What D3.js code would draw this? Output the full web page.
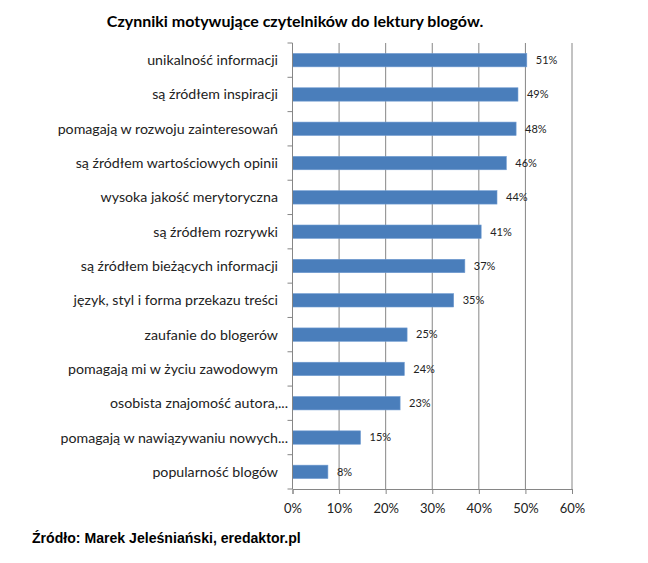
<!DOCTYPE html>
<html>
<head>
<meta charset="utf-8">
<script src="https://cdn.jsdelivr.net/npm/d3@7"></script>
<style>
  body { margin: 0; background: #fff; }
  svg { display: block; }
</style>
</head>
<body>
<div id="chart"></div>
<script>
// dane
const kategorie = [
  "unikalność informacji",
  "są źródłem inspiracji",
  "pomagają w rozwoju zainteresowań",
  "są źródłem wartościowych opinii",
  "wysoka jakość merytoryczna",
  "są źródłem rozrywki",
  "są źródłem bieżących informacji",
  "język, styl i forma przekazu treści",
  "zaufanie do blogerów",
  "pomagają mi w życiu zawodowym",
  "osobista znajomość autora,...",
  "pomagają w nawiązywaniu nowych...",
  "popularność blogów"
];
const wartosci = [0.503, 0.484, 0.480, 0.459, 0.439, 0.405, 0.370, 0.346, 0.246, 0.240, 0.231, 0.146, 0.076];
const etykiety = ["51%", "49%", "48%", "46%", "44%", "41%", "37%", "35%", "25%", "24%", "23%", "15%", "8%"];
const ticksX = [0, 0.1, 0.2, 0.3, 0.4, 0.5, 0.6];

const width = 648, height = 563;
const plot = { left: 292.5, right: 572, top: 43, bottom: 489 };
const szary = "#868686";

const svg = d3.select("#chart").append("svg")
    .attr("width", width).attr("height", height);

const x = d3.scaleLinear().domain([0, 0.6]).range([plot.left, plot.right]);
const y = d3.scaleBand().domain(kategorie).range([plot.top, plot.bottom])
    .paddingInner(0.61).paddingOuter(0.305);

// tytuł
svg.append("text")
    .attr("x", 295).attr("y", 27)
    .attr("text-anchor", "middle")
    .style("font-family", "Lato, 'Open Sans', sans-serif")
    .style("font-weight", "bold")
    .style("font-size", "16px")
    .text("Czynniki motywujące czytelników do lektury blogów.");

// linie siatki
svg.append("g").selectAll("line").data(ticksX.slice(1)).enter().append("line")
    .attr("x1", d => x(d)).attr("x2", d => x(d))
    .attr("y1", plot.top).attr("y2", plot.bottom)
    .attr("stroke", szary).attr("stroke-width", 1);

// słupki
svg.append("g").selectAll("rect").data(kategorie).enter().append("rect")
    .attr("x", x(0))
    .attr("y", d => y(d))
    .attr("width", (d, i) => x(wartosci[i]) - x(0))
    .attr("height", y.bandwidth())
    .attr("fill", "#4a7ebb")
    .attr("stroke", "#6f9bd1")
    .attr("stroke-width", 0.6);

// etykiety wartości
svg.append("g").selectAll("text").data(kategorie).enter().append("text")
    .attr("x", (d, i) => x(wartosci[i]) + 9)
    .attr("y", d => y(d) + y.bandwidth() / 2)
    .attr("dy", "0.35em")
    .style("font-family", "Lato, 'Open Sans', sans-serif")
    .style("font-size", "11px")
    .attr("fill", "#222")
    .text((d, i) => etykiety[i]);

// oś Y
const osY = svg.append("g");
osY.append("line")
    .attr("x1", plot.left).attr("x2", plot.left)
    .attr("y1", plot.top).attr("y2", plot.bottom)
    .attr("stroke", szary);
osY.selectAll(".tick").data(d3.range(kategorie.length + 1)).enter().append("line")
    .attr("x1", plot.left - 5).attr("x2", plot.left)
    .attr("y1", i => plot.top + i * y.step())
    .attr("y2", i => plot.top + i * y.step())
    .attr("stroke", szary);
// skrócone etykiety (z "...") sięgają bliżej osi
osY.selectAll("text").data(kategorie).enter().append("text")
    .attr("x", d => d.endsWith("...") ? 288 : 278)
    .attr("y", d => y(d) + y.bandwidth() / 2)
    .attr("dy", "0.35em")
    .attr("text-anchor", "end")
    .style("font-family", "Lato, 'Open Sans', sans-serif")
    .style("font-size", "14.2px")
    .attr("fill", "#222")
    .text(d => d);

// oś X
const osX = svg.append("g")
    .attr("transform", `translate(0,${plot.bottom})`)
    .call(d3.axisBottom(x).tickValues(ticksX).tickFormat(d3.format(".0%")).tickSize(5).tickPadding(10));
osX.select(".domain").attr("stroke", szary);
osX.selectAll(".tick line").attr("stroke", szary);
osX.selectAll(".tick text")
    .style("font-family", "Lato, 'Open Sans', sans-serif")
    .style("font-size", "13px")
    .attr("fill", "#222");

// źródło
svg.append("text")
    .attr("x", 32).attr("y", 543)
    .style("font-family", "'Liberation Sans', Arial, sans-serif")
    .style("font-weight", "bold")
    .style("font-size", "14.1px")
    .text("Źródło: Marek Jeleśniański, eredaktor.pl");
</script>
</body>
</html>
